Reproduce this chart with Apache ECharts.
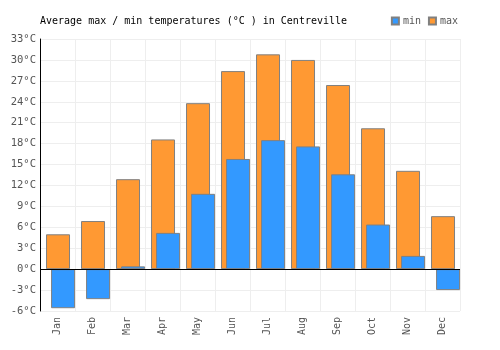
<!DOCTYPE html>
<html><head><meta charset="utf-8">
<script src="https://cdn.jsdelivr.net/npm/echarts@6/dist/echarts.min.js"></script>
<style>html,body{margin:0;padding:0;background:#fff}#c{width:500px;height:350px}</style>
</head><body><div id="c"></div>
<script>
const months = ['Jan','Feb','Mar','Apr','May','Jun','Jul','Aug','Sep','Oct','Nov','Dec'];
const maxTemps = [5.0, 6.9, 12.9, 18.6, 23.8, 28.4, 30.8, 30.0, 26.4, 20.2, 14.1, 7.6];
const minTemps = [-5.6, -4.3, 0.4, 5.2, 10.8, 15.8, 18.5, 17.6, 13.6, 6.4, 1.9, -3.0];
const titleText = 'Average max / min temperatures (°C ) in Centreville';
const font = '"DejaVu Sans Mono", monospace';
const chart = echarts.init(document.getElementById('c'), null, {renderer:'canvas'});
chart.setOption({
  animation:false,
  textStyle:{fontFamily:font},
  title:{text:titleText,left:35,top:11,textStyle:{fontFamily:font,fontSize:10,fontWeight:'normal',color:'#000'}},
  legend:{right:37,top:11,itemWidth:7,itemHeight:7,itemGap:7,icon:'rect',
    textStyle:{fontFamily:font,fontSize:10,color:'#555',padding:[0,0,0,-1]},
    data:['min','max']},
  grid:{left:40,right:40,top:39,bottom:39,containLabel:false},
  xAxis:{type:'category',data:months,
    axisLine:{show:false},axisTick:{show:false},
    splitLine:{show:true,lineStyle:{color:'#eeeeee',width:1}},
    axisLabel:{rotate:90,fontFamily:font,fontSize:10,color:'#555',margin:6,interval:0}},
  yAxis:{type:'value',min:-6,max:33,interval:3,
    axisLine:{show:true,lineStyle:{color:'#000',width:1}},axisTick:{show:false},
    splitLine:{show:true,lineStyle:{color:'#eeeeee',width:1}},
    axisLabel:{fontFamily:font,fontSize:10.5,color:'#555',margin:4,formatter:'{value}°C'}},
  series:[
    {name:'pad',type:'bar',data:months.map(()=>null),barWidth:29,barGap:'-79%',silent:true,itemStyle:{color:'transparent'}},
    {name:'max',type:'bar',data:maxTemps,barWidth:24,barGap:'-79%',
      itemStyle:{color:'#ff9933',borderColor:'#808080',borderWidth:1},
      markLine:{silent:true,symbol:'none',label:{show:false},lineStyle:{color:'#000',width:1,type:'solid'},data:[{yAxis:0}]}},
    {name:'min',type:'bar',data:minTemps,barWidth:24,barGap:'-79%',
      itemStyle:{color:'#3399ff',borderColor:'#808080',borderWidth:1}}
  ]
});
</script></body></html>
